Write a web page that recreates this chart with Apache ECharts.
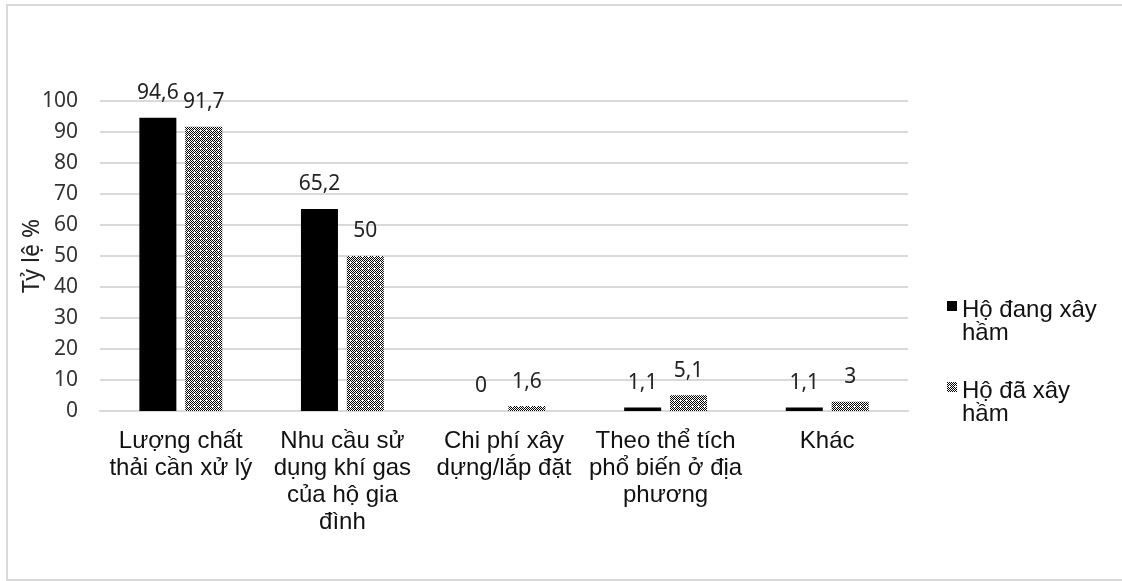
<!DOCTYPE html>
<html>
<head>
<meta charset="utf-8">
<script src="https://cdn.jsdelivr.net/npm/echarts@6/dist/echarts.min.js"></script>
<style>
  html, body { margin: 0; padding: 0; background: #fff; }
  #chart { width: 1122px; height: 581px; }
</style>
</head>
<body>
<div id="chart"></div>
<script>
// Categories (x axis) and the two household groups
const categories = [
  'Lượng chất\nthải cần xử lý',
  'Nhu cầu sử\ndụng khí gas\ncủa hộ gia\nđình',
  'Chi phí xây\ndựng/lắp đặt',
  'Theo thể tích\nphổ biến ở địa\nphương',
  'Khác'
];
const seriesNames = ['Hộ đang xây\nhầm', 'Hộ đã xây\nhầm'];
const dangXay = [94.6, 65.2, 0, 1.1, 1.1];
const daXay = [91.7, 50, 1.6, 5.1, 3];
const yTicks = { min: 0, max: 100, interval: 10 };
const yAxisTitle = 'Tỷ lệ %';

// Small lattice tile used as the fill of the second series
function makeHatch() {
  const rows = [
    'X.X.X.',
    '.X.X.X',
    'X.X.X.',
    '.X.X.X',
    'X...X.',
    '.X.X.X'
  ];
  const n = rows.length;
  const c = document.createElement('canvas');
  c.width = n; c.height = n;
  const ctx = c.getContext('2d');
  ctx.fillStyle = '#ffffff';
  ctx.fillRect(0, 0, n, n);
  ctx.fillStyle = '#000000';
  rows.forEach((r, y) => {
    for (let x = 0; x < r.length; x++) {
      if (r[x] === 'X') ctx.fillRect(x, y, 1, 1);
    }
  });
  return { image: c, repeat: 'repeat' };
}

const labelFont = '"Noto Sans", "Open Sans", sans-serif';
const textFont = '"Liberation Sans", Arial, sans-serif';
const gridColor = '#d9d9d9';

const chart = echarts.init(document.getElementById('chart'), null, { renderer: 'canvas' });

const valueLabel = {
  show: true,
  position: 'top',
  distance: 14,
  color: '#222',
  fontFamily: labelFont,
  fontSize: 21,
  formatter: p => String(p.value).replace('.', ',')
};

chart.setOption({
  animation: false,
  backgroundColor: '#ffffff',
  graphic: [{
    type: 'rect',
    shape: { x: 7, y: 5, width: 1140, height: 575 },
    style: { fill: 'none', stroke: gridColor, lineWidth: 2 },
    silent: true
  }],
  grid: { left: 100, right: 214, top: 101, bottom: 170 },
  legend: {
    orient: 'vertical',
    left: 942,
    top: 270,
    itemWidth: 10,
    itemHeight: 18,
    itemGap: 11,
    // square sits in the upper part of the icon box so it lines up with the first text line
    icon: 'path://M0,0h10v10h-10z M0,18h10',
    formatter: name => '\n' + name,
    textStyle: {
      fontFamily: textFont,
      fontSize: 24,
      lineHeight: 23,
      color: '#111'
    },
    data: seriesNames
  },
  xAxis: {
    type: 'category',
    data: categories,
    axisLine: { show: true, lineStyle: { color: gridColor, width: 2 } },
    axisTick: { show: false },
    axisLabel: {
      interval: 0,
      margin: 17,
      color: '#111',
      fontFamily: textFont,
      fontSize: 24,
      lineHeight: 27
    }
  },
  yAxis: {
    type: 'value',
    min: yTicks.min,
    max: yTicks.max,
    interval: yTicks.interval,
    name: yAxisTitle,
    nameLocation: 'middle',
    nameGap: 56,
    nameMoveOverlap: false,
    nameTextStyle: { fontFamily: labelFont, fontSize: 23, color: '#222' },
    axisLine: { show: false },
    axisTick: { show: false },
    axisLabel: { margin: 22, color: '#333', fontFamily: labelFont, fontSize: 21 },
    splitLine: { lineStyle: { color: gridColor, width: 2 } }
  },
  series: [
    {
      name: seriesNames[0],
      type: 'bar',
      data: dangXay,
      barWidth: 37,
      barGap: '24%',
      itemStyle: { color: '#000000' },
      label: valueLabel
    },
    {
      name: seriesNames[1],
      type: 'bar',
      data: daXay,
      barWidth: 37,
      itemStyle: { color: makeHatch() },
      label: valueLabel
    }
  ]
});
</script>
</body>
</html>
